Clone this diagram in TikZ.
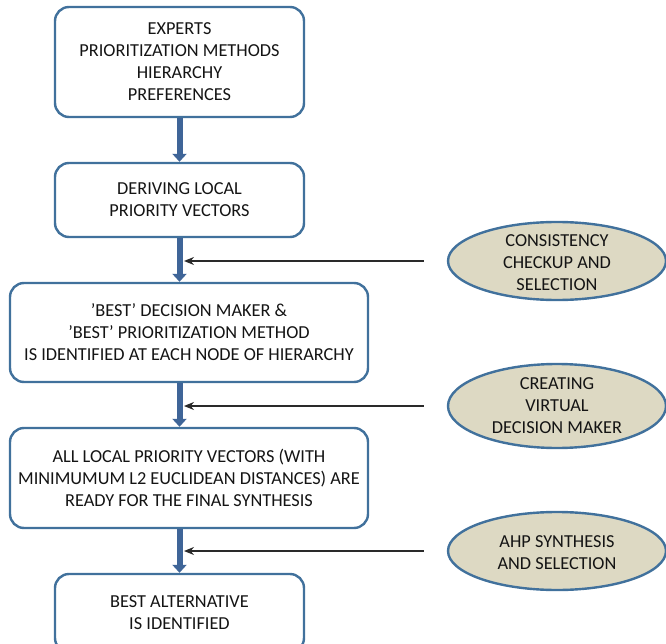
\documentclass[tikz,border=0pt]{standalone}
\usepackage{fontspec}
\setmainfont{Carlito}
\usetikzlibrary{arrows.meta,positioning,shapes.geometric,calc}
\definecolor{edge}{HTML}{41719C}
\definecolor{flow}{HTML}{3F6598}
\definecolor{sand}{HTML}{DDD9C3}
\definecolor{ink}{HTML}{141414}
\definecolor{wire}{HTML}{2A2A2A}
\tikzset{
  box/.style={draw=edge,line width=2.4pt,rounded corners=14pt,fill=white,inner sep=0pt,align=center,text=ink,font=\fontsize{18.3}{22}\selectfont},
  boxn/.style={box,minimum width=249pt},
  boxw/.style={box,minimum width=358pt},
  oval/.style={ellipse,draw=edge,line width=2.4pt,fill=sand,minimum width=218pt,minimum height=78pt,inner sep=0pt},
  ovtxt/.style={align=center,text=ink,font=\fontsize{18.3}{22}\selectfont},
  fl/.style={-{Triangle[length=8pt,width=14pt]},draw=flow,line width=6pt},
  ar/.style={-{Stealth[length=10pt,width=8pt]},draw=wire,line width=1.2pt},
}

\begin{document}
\begin{tikzpicture}[x=1pt,y=-1pt]
  \clip (0,0) rectangle (666,644);
  % main flow
  \node[boxn,minimum height=110pt] (in) at (179.5,62) {EXPERTS\\PRIORITIZATION METHODS\\HIERARCHY\\PREFERENCES};
  \node[boxn,minimum height=74pt] (lpv) at (179.5,200) {DERIVING LOCAL\\PRIORITY VECTORS};
  \node[boxw,minimum height=99pt] (best) at (189,332.5) {'BEST' DECISION MAKER \&\\'BEST' PRIORITIZATION METHOD\\IS IDENTIFIED AT EACH NODE OF HIERARCHY};
  \node[boxw,minimum height=100pt] (ready) at (189,478) {ALL LOCAL PRIORITY VECTORS (WITH\\MINIMUMUM L2 EUCLIDEAN DISTANCES) ARE\\READY FOR THE FINAL SYNTHESIS};
  \node[boxn,minimum height=78pt] (alt) at (179.5,613) {BEST ALTERNATIVE\\IS IDENTIFIED};
  \draw[fl] (in.south) -- (lpv.north);
  \draw[fl] (lpv.south) -- (lpv.south |- best.north);
  \draw[fl] (lpv.south |- best.south) -- (lpv.south |- ready.north);
  \draw[fl] (alt.north |- ready.south) -- (alt.north);
  % side steps
  \node[oval,label={[ovtxt,yshift=-1.5pt]center:{CONSISTENCY\\CHECKUP AND\\SELECTION}}] (chk) at (557,261) {};
  \node[oval,minimum height=84pt,label={[ovtxt]center:{CREATING\\VIRTUAL\\DECISION MAKER}}] (virt) at (557,406) {};
  \node[oval,label={[ovtxt,yshift=-1.5pt]center:{AHP SYNTHESIS\\AND SELECTION}}] (syn) at (557,551) {};
  \foreach \o in {chk,virt,syn} \draw[ar] ([xshift=-23pt]\o.west) -- ([xshift=4.5pt]\o.west -| in.south);
\end{tikzpicture}
\end{document}
